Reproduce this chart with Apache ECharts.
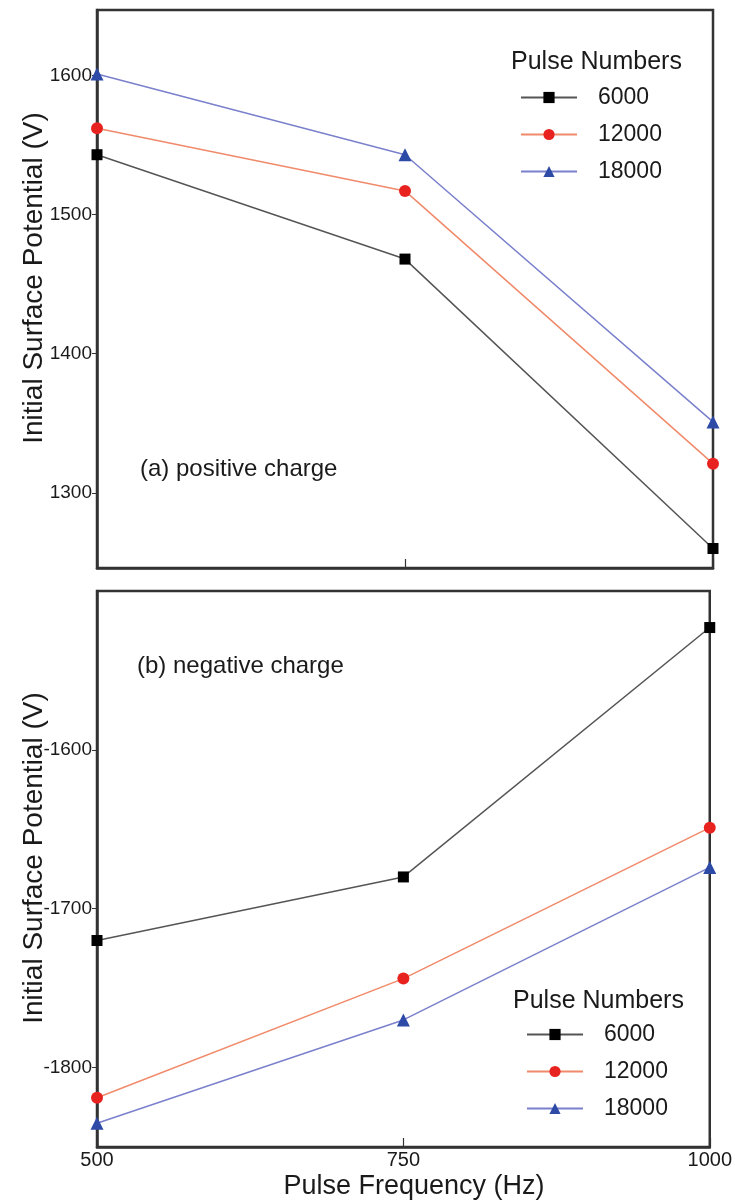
<!DOCTYPE html>
<html><head><meta charset="utf-8">
<script src="https://cdn.jsdelivr.net/npm/echarts@6/dist/echarts.min.js"></script>
<style>html,body{margin:0;padding:0;background:#fff}#c{width:735px;height:1201px}</style>
</head><body><div id="c"></div>
<script>
const freqs = [500, 750, 1000];
const seriesNames = ['6000', '12000', '18000'];
const posP6000 = [1543, 1468, 1260];
const posP12000 = [1562, 1517, 1321];
const posP18000 = [1601, 1543, 1351];
const negP6000 = [-1720, -1680, -1523];
const negP12000 = [-1819, -1744, -1649];
const negP18000 = [-1835, -1770, -1674];
const topTicks = [1300, 1400, 1500, 1600];
const botTicks = [-1800, -1700, -1600];

const font = "'Liberation Sans', Arial, sans-serif";
const styles = [
  {line: '#555555', sym: '#000000', symbol: 'rect', size: 11},
  {line: '#f08a6a', sym: '#e8231f', symbol: 'circle', size: 12},
  {line: '#7a80cc', sym: '#2d4aa6', symbol: 'triangle', size: 13}
];
function pairs(vals){ return freqs.map((f,i)=>[f, vals[i]]); }
function mk(name, vals, idx, gi){
  const s = styles[idx];
  return {
    name: name, type: 'line', xAxisIndex: gi, yAxisIndex: gi,
    data: pairs(vals), symbol: s.symbol, symbolSize: s.size,
    lineStyle: {color: s.line, width: 1.5},
    itemStyle: {color: s.sym},
    clip: false, animation: false, z: 3 + idx
  };
}
const fmt = v => String(v);
const axisLine = {show: true, lineStyle: {color: '#333', width: 2.5}};
const chart = echarts.init(document.getElementById('c'), null, {renderer: 'canvas'});
chart.setOption({
  backgroundColor: '#fff',
  animation: false,
  grid: [
    {left: 97, top: 10, width: 616, height: 558, show: true, borderColor: '#333', borderWidth: 2.5},
    {left: 97, top: 591, width: 616, height: 556, show: true, borderColor: '#333', borderWidth: 2.5}
  ],
  xAxis: [
    {gridIndex: 0, type: 'value', min: 500, max: 1000, interval: 250,
     axisLine: axisLine, splitLine: {show: false},
     axisTick: {show: true, inside: true, length: 9, lineStyle: {color: '#333', width: 1.2}},
     axisLabel: {show: false}},
    {gridIndex: 1, type: 'value', min: 500, max: 1000, interval: 250,
     axisLine: axisLine, splitLine: {show: false},
     axisTick: {show: true, inside: true, length: 9, lineStyle: {color: '#333', width: 1.2}},
     axisLabel: {show: true, formatter: fmt, fontFamily: font, fontSize: 20, color: '#1a1a1a', margin: 3}}
  ],
  yAxis: [
    {gridIndex: 0, type: 'value', min: 1246, max: 1647,
     axisLine: axisLine, splitLine: {show: false},
     axisTick: {show: true, inside: false, length: 5, customValues: topTicks, lineStyle: {color: '#333'}},
     axisLabel: {show: true, customValues: topTicks, formatter: fmt, fontFamily: font, fontSize: 19, color: '#1a1a1a', margin: 5}},
    {gridIndex: 1, type: 'value', min: -1850, max: -1500,
     axisLine: axisLine, splitLine: {show: false},
     axisTick: {show: true, inside: false, length: 5, customValues: botTicks, lineStyle: {color: '#333'}},
     axisLabel: {show: true, customValues: botTicks, formatter: fmt, fontFamily: font, fontSize: 19, color: '#1a1a1a', margin: 5}}
  ],
  legend: [
    {data: seriesNames, left: 515, top: 81, orient: 'vertical', itemWidth: 56, itemHeight: 14, itemGap: 14,
     textStyle: {fontFamily: font, fontSize: 23, lineHeight: 23, color: '#1a1a1a', padding: [0,0,0,16]}, selectedMode: false},
    {data: seriesNames, left: 521, top: 1018, orient: 'vertical', itemWidth: 56, itemHeight: 14, itemGap: 14,
     textStyle: {fontFamily: font, fontSize: 23, lineHeight: 23, color: '#1a1a1a', padding: [0,0,0,16]}, selectedMode: false}
  ],
  graphic: [
    {type: 'text', left: 511, top: 50, style: {text: 'Pulse Numbers', font: '25px ' + font, fill: '#1a1a1a'}},
    {type: 'text', left: 513, top: 989, style: {text: 'Pulse Numbers', font: '25px ' + font, fill: '#1a1a1a'}},
    {type: 'text', left: 140, top: 457, style: {text: '(a) positive charge', font: '24px ' + font, fill: '#1a1a1a'}},
    {type: 'text', left: 137, top: 654, style: {text: '(b) negative charge', font: '24px ' + font, fill: '#1a1a1a'}},
    {type: 'text', x: 34, y: 278, rotation: Math.PI / 2,
     style: {text: 'Initial Surface Potential (V)', font: '28px ' + font, fill: '#1a1a1a', align: 'center', verticalAlign: 'middle'}},
    {type: 'text', x: 34, y: 858, rotation: Math.PI / 2,
     style: {text: 'Initial Surface Potential (V)', font: '28px ' + font, fill: '#1a1a1a', align: 'center', verticalAlign: 'middle'}},
    {type: 'text', x: 414, y: 1187,
     style: {text: 'Pulse Frequency (Hz)', font: '27px ' + font, fill: '#1a1a1a', align: 'center', verticalAlign: 'middle'}}
  ],
  series: [
    mk('6000', posP6000, 0, 0), mk('12000', posP12000, 1, 0), mk('18000', posP18000, 2, 0),
    mk('6000', negP6000, 0, 1), mk('12000', negP12000, 1, 1), mk('18000', negP18000, 2, 1)
  ]
});
</script></body></html>
